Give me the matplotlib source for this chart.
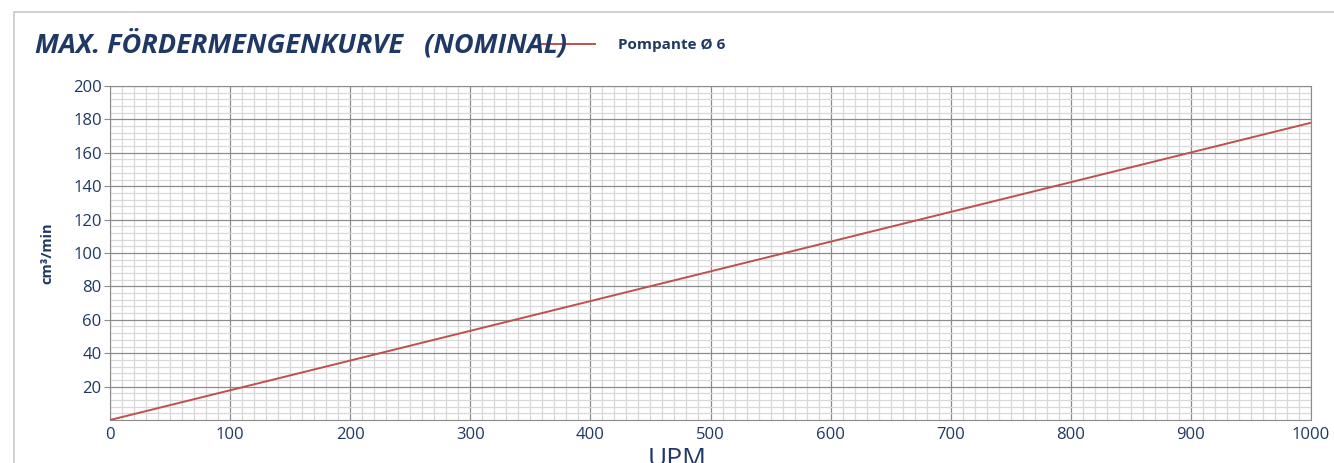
import matplotlib.pyplot as plt
from matplotlib.patches import Rectangle
from matplotlib.ticker import MultipleLocator

# Daten
upm = [0, 1000]
foerdermenge = [0, 178]
x_ticks = [0, 100, 200, 300, 400, 500, 600, 700, 800, 900, 1000]
y_ticks = [20, 40, 60, 80, 100, 120, 140, 160, 180, 200]

NAVY = "#1f3864"
ROT = "#c0504d"

plt.rcParams['font.family'] = ['Open Sans', 'DejaVu Sans']

fig = plt.figure(figsize=(13.34, 4.63), dpi=100)

# Rahmen
fig.patches.append(Rectangle((14 / 1334, -0.1), 1.2, 1 - 12 / 463 + 0.1,
                             transform=fig.transFigure, fill=False,
                             edgecolor="#c8c8c8", linewidth=1.2))

ax = fig.add_axes([110 / 1334, 1 - 420 / 463, 1201 / 1334, 334 / 463])

ax.plot(upm, foerdermenge, color=ROT, linewidth=1.4, label="Pompante Ø 6", zorder=3)

ax.set_xlim(0, 1000)
ax.set_ylim(0, 200)
ax.set_xticks(x_ticks)
ax.set_yticks(y_ticks)
ax.xaxis.set_minor_locator(MultipleLocator(10))
ax.yaxis.set_minor_locator(MultipleLocator(4))

ax.grid(which="major", color="#8c8c8c", linewidth=0.9)
ax.grid(which="minor", color="#d8d8d8", linewidth=0.9)
ax.set_axisbelow(True)

for s in ax.spines.values():
    s.set_color("#8c8c8c")

ax.tick_params(axis="x", which="both", length=0, labelsize=12, colors=NAVY, pad=5)
ax.tick_params(axis="y", which="major", length=4, color="#8c8c8c", labelsize=12,
               labelcolor=NAVY, pad=2)
ax.tick_params(axis="y", which="minor", length=0)

ax.set_ylabel("cm³/min", fontsize=10.5, fontweight="bold", color=NAVY)
ax.yaxis.set_label_coords(-0.046, 0.5)
# Achsentitel ist im Original unten abgeschnitten
fig.text(677 / 1334, 1 - 466 / 463, "UPM", fontsize=19, color=NAVY,
         ha="center", va="baseline")

fig.text(35 / 1334, 1 - 44 / 463, "MAX. FÖRDERMENGENKURVE   (NOMINAL)",
         fontsize=19.5, fontweight="bold", fontstyle="italic", color=NAVY,
         ha="left", va="center")

leg = ax.legend(loc="center left", bbox_to_anchor=(526 / 1334, 1 - 45 / 463),
                bbox_transform=fig.transFigure, frameon=False,
                prop={"size": 11, "weight": "bold"}, handlelength=3.6,
                handletextpad=1.5)
for t in leg.get_texts():
    t.set_color(NAVY)

fig.savefig("out.png", dpi=100)
